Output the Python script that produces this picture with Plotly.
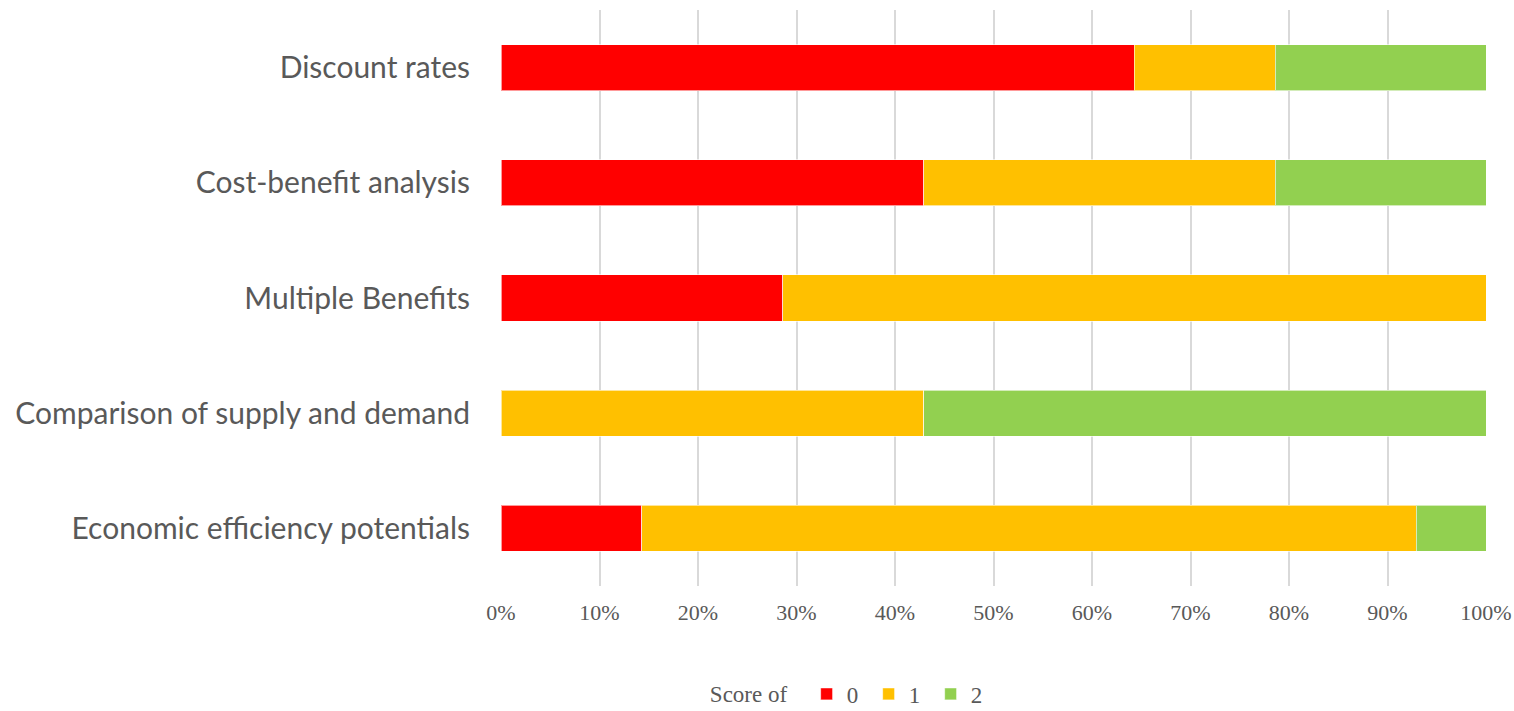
import plotly.graph_objects as go

categories = ["Economic efficiency potentials", "Comparison of supply and demand",
              "Multiple Benefits", "Cost-benefit analysis", "Discount rates"]
score0 = [14.3, 0.0, 28.6, 42.9, 64.3]
score1 = [78.6, 42.9, 71.4, 35.7, 14.3]
score2 = [7.1, 57.1, 0.0, 21.4, 21.4]
series_names = ["0", "1", "2"]
colors = ["#FF0000", "#FFC000", "#92D050"]
tick_vals = [0, 10, 20, 30, 40, 50, 60, 70, 80, 90, 100]
tick_text = ["0%", "10%", "20%", "30%", "40%", "50%", "60%", "70%", "80%", "90%", "100%"]

fig = go.Figure()
for name, vals, col in zip(series_names, [score0, score1, score2], colors):
    fig.add_trace(go.Bar(
        y=categories, x=vals, name=name, orientation="h",
        marker=dict(color=col, line=dict(color="rgba(255,255,255,0.6)", width=1)),
    ))

fig.update_layout(
    barmode="stack",
    bargap=0.6,
    width=1514, height=711,
    margin=dict(l=501, r=28, t=10, b=125, autoexpand=False),
    plot_bgcolor="white", paper_bgcolor="white",
    showlegend=True,
    legend=dict(
        orientation="h",
        title=dict(text="Score of  ", side="left",
                   font=dict(family="Liberation Serif", size=23, color="#595959")),
        font=dict(family="Liberation Serif", size=23, color="#595959"),
        x=0.21, xanchor="left", yref="container", y=0.024, yanchor="middle",
        itemwidth=30, traceorder="normal",
        entrywidth=17, entrywidthmode="pixels",
    ),
    xaxis=dict(
        range=[0, 100], tickvals=tick_vals, ticktext=tick_text,
        showgrid=True, gridcolor="#D9D9D9", gridwidth=2,
        zeroline=False, showline=False, automargin=False,
        tickfont=dict(family="Liberation Serif", size=22, color="#595959"),
        ticks="", ticklabelstandoff=11,
    ),
    yaxis=dict(
        categoryorder="array", categoryarray=categories,
        showgrid=False, zeroline=False, showline=False, automargin=False,
        tickfont=dict(family="Lato", size=30, color="#595959"),
        ticks="", ticklabelstandoff=30,
    ),
)

fig.write_html("out.html")
